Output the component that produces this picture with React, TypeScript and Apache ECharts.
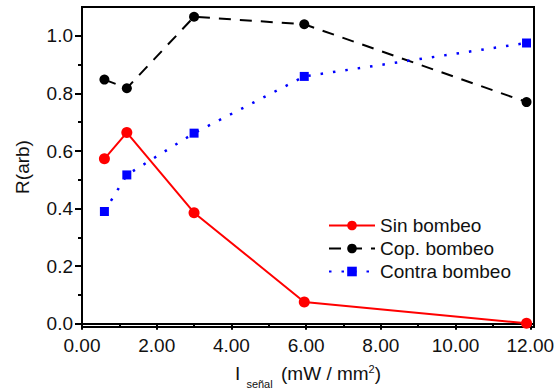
import React, { useEffect, useRef } from "react";
import * as echarts from "echarts";

const xSin = [0.6, 1.2, 3.0, 5.95, 11.9];
const ySin = [0.573, 0.664, 0.386, 0.076, 0.002];
const xCop = [0.6, 1.2, 3.0, 5.95, 11.9];
const yCop = [0.848, 0.818, 1.066, 1.04, 0.77];
const xContra = [0.6, 1.2, 3.0, 5.95, 11.9];
const yContra = [0.39, 0.517, 0.662, 0.859, 0.975];
const xMajor = [0, 2, 4, 6, 8, 10, 12];
const xMinor = [1, 3, 5, 7, 9, 11];
const yMajor = [0, 0.2, 0.4, 0.6, 0.8, 1.0];
const yMinor = [0.1, 0.3, 0.5, 0.7, 0.9];
const seriesNames = ["Sin bombeo", "Cop. bombeo", "Contra bombeo"];

const FONT = "Liberation Sans, Arial, sans-serif";

export default function App() {
  const ref = useRef<HTMLDivElement>(null);
  useEffect(() => {
    if (!ref.current) return;
    const chart = echarts.init(ref.current, null, { renderer: "svg" });
    const zip = (xs: number[], ys: number[]) => xs.map((x, i) => [x, ys[i]]);
    const xRange = { min: 0, max: 12.1 };
    const yRange = { min: -0.011, max: 1.1 };
    chart.setOption({
      animation: false,
      textStyle: { fontFamily: FONT },
      grid: {
        left: 82, top: 7, right: 21, bottom: 63,
        outerBoundsMode: "none", containLabel: false,
        show: true, borderColor: "#000", borderWidth: 2, backgroundColor: "transparent",
      },
      legend: {
        orient: "vertical", left: 323, top: 211,
        itemWidth: 46, itemHeight: 12, itemGap: 4,
        data: seriesNames,
        textStyle: { fontSize: 19, color: "#111", fontFamily: FONT },
      },
      xAxis: [
        {
          type: "value", ...xRange,
          splitLine: { show: false },
          axisLine: { lineStyle: { color: "#000", width: 2 } },
          axisTick: { customValues: xMajor, length: 6, lineStyle: { color: "#000", width: 2 } },
          axisLabel: {
            customValues: xMajor, fontSize: 19, color: "#111", margin: 9, fontFamily: FONT,
            formatter: (v: number) => v.toFixed(2),
          },
          name: "{a|I}{s|  señal }{a| (mW / mm}{p|2}{a|)}",
          nameLocation: "middle", nameGap: 30,
          nameTextStyle: {
            rich: {
              a: { fontSize: 19, color: "#111", fontFamily: FONT },
              s: { fontSize: 11, color: "#111", fontFamily: FONT, padding: [21, 0, 0, 0] },
              p: { fontSize: 11, color: "#111", fontFamily: FONT, padding: [0, 0, 9, 0] },
            },
          },
        },
        {
          type: "value", ...xRange, position: "bottom",
          splitLine: { show: false },
          axisLine: { show: false },
          axisTick: { customValues: xMinor, length: 4, lineStyle: { color: "#000", width: 2 } },
          axisLabel: { show: false },
        },
      ],
      yAxis: [
        {
          type: "value", ...yRange,
          splitLine: { show: false },
          axisLine: { show: true, lineStyle: { color: "#000", width: 2 } },
          axisTick: { show: true, customValues: yMajor, length: 7, lineStyle: { color: "#000", width: 2 } },
          axisLabel: {
            customValues: yMajor, fontSize: 19, color: "#111", margin: 9, fontFamily: FONT,
            formatter: (v: number) => v.toFixed(1),
          },
          name: "R(arb)", nameLocation: "middle", nameGap: 50, nameRotate: 90,
          nameTextStyle: { fontSize: 19, color: "#111", fontFamily: FONT },
        },
        {
          type: "value", ...yRange, position: "left",
          splitLine: { show: false },
          axisLine: { show: false },
          axisTick: { show: true, customValues: yMinor, length: 4, lineStyle: { color: "#000", width: 2 } },
          axisLabel: { show: false },
        },
      ],
      series: [
        {
          name: seriesNames[0], type: "line", data: zip(xSin, ySin),
          symbol: "circle", symbolSize: 11,
          lineStyle: { color: "#ff0000", width: 2 },
          itemStyle: { color: "#ff0000" },
        },
        {
          name: seriesNames[1], type: "line", data: zip(xCop, yCop),
          symbol: "circle", symbolSize: 10,
          lineStyle: { color: "#000", width: 2, type: [12, 9] },
          itemStyle: { color: "#000" },
        },
        {
          name: seriesNames[2], type: "line", data: zip(xContra, yContra),
          symbol: "rect", symbolSize: 9,
          lineStyle: { color: "#0000ff", width: 2.5, type: [2.5, 10] },
          itemStyle: { color: "#0000ff" },
        },
      ],
    });
    return () => chart.dispose();
  }, []);
  return <div ref={ref} style={{ width: 555, height: 390, position: "absolute", left: 0, top: 0 }} />;
}
